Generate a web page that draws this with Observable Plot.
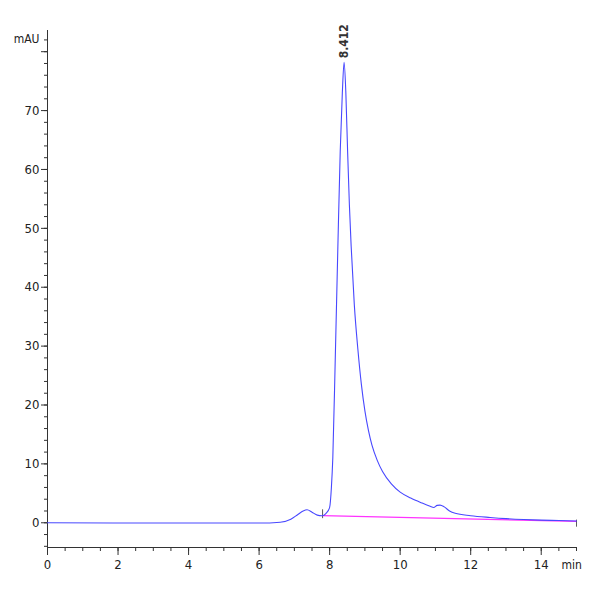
<!DOCTYPE html>
<html>
<head>
<meta charset="utf-8">
<script src="https://cdn.jsdelivr.net/npm/d3@7"></script>
<script src="https://cdn.jsdelivr.net/npm/@observablehq/plot@0.6"></script>
<style>
  html, body { margin: 0; padding: 0; background: #fff; }
  #chart svg { display: block; }
</style>
</head>
<body>
<div id="chart"></div>
<script>
// Chromatogram trace (time in min, signal in mAU)
const time = [0, 3, 6, 6.6, 6.9, 7.1, 7.25, 7.36, 7.5, 7.65, 7.78, 7.9, 8.0, 8.05, 8.09, 8.16, 8.23, 8.30, 8.36, 8.41, 8.46, 8.51, 8.56, 8.61, 8.70, 8.80, 8.90, 9.00, 9.10, 9.20, 9.35, 9.50, 9.75, 10.0, 10.3, 10.6, 10.85, 10.95, 11.05, 11.13, 11.25, 11.4, 11.56, 12.0, 12.55, 13.0, 13.5, 14.0, 14.5, 15.0];
const signal = [0, -0.05, -0.05, 0.1, 0.6, 1.4, 2.0, 2.2, 1.8, 1.3, 1.2, 1.6, 2.6, 6, 11, 28, 46, 63, 73, 78.2, 73, 63, 54, 47, 37, 29.5, 23.5, 19, 15.7, 13.2, 10.6, 8.7, 6.6, 5.2, 4.2, 3.4, 2.8, 2.6, 2.95, 3.0, 2.7, 2.0, 1.6, 1.2, 0.9, 0.7, 0.55, 0.45, 0.38, 0.3];

// Integration baseline
const baseTime = [7.8, 15.0];
const baseSignal = [1.2, 0.25];

// Peak annotation
const peakTime = [8.412];
const peakSignal = [78.2];
const peakLabel = ["8.412"];

// Axis ticks
const xMajor = [0, 2, 4, 6, 8, 10, 12, 14];
const xMinor = d3.range(0, 15.001, 0.5);
const yMajorLabeled = [0, 10, 20, 30, 40, 50, 60, 70];
const yMajorUnlabeled = [80];
const yMinor = d3.range(-4, 82.001, 2);

const trace = time.map((t, i) => ({t, v: signal[i]}));
const base = baseTime.map((t, i) => ({t, v: baseSignal[i]}));
const peaks = peakTime.map((t, i) => ({t, v: peakSignal[i], label: peakLabel[i]}));

const font = "'Liberation Sans Narrow', 'DejaVu Sans Condensed', 'Liberation Sans', sans-serif";
const yMin = -4.2, yMax = 83.6;

const chart = Plot.plot({
  width: 600,
  height: 600,
  marginLeft: 47,
  marginRight: 24,
  marginTop: 30,
  marginBottom: 53,
  style: {fontFamily: font, fontSize: "13px", color: "#222", background: "#fff"},
  x: {domain: [0, 15], axis: null},
  y: {domain: [yMin, yMax], axis: null},
  marks: [
    // axis lines
    Plot.ruleX([0], {stroke: "#333", strokeWidth: 1}),
    Plot.ruleY([yMin], {stroke: "#333", strokeWidth: 1}),
    // x axis
    Plot.axisX({ticks: xMinor, tickSize: 4, tickFormat: () => "", anchor: "bottom", label: null, stroke: "#333"}),
    Plot.axisX({ticks: xMajor, tickSize: 8, tickPadding: 4, anchor: "bottom", label: null, stroke: "#333", fontSize: 13}),
    // y axis
    Plot.axisY({ticks: yMinor, tickSize: 3, tickFormat: () => "", anchor: "left", label: null, stroke: "#333"}),
    Plot.axisY({ticks: yMajorUnlabeled, tickSize: 6, tickFormat: () => "", anchor: "left", label: null, stroke: "#333"}),
    Plot.axisY({ticks: yMajorLabeled, tickSize: 6, tickPadding: 2, anchor: "left", label: null, stroke: "#333", fontSize: 13}),
    // unit labels
    Plot.text(["mAU"], {x: 0, y: 82.2, text: d => d, textAnchor: "end", dx: -8, fontSize: 12, fill: "#222"}),
    Plot.text(["min"], {x: 14.86, y: yMin, text: d => d, dy: 18, fontSize: 12, fill: "#222"}),
    // integration baseline
    Plot.line(base, {x: "t", y: "v", stroke: "#ff33ff", strokeWidth: 1.2}),
    Plot.ruleX([base[0]], {x: "t", y1: d => d.v - 0.5, y2: d => d.v + 1.0, stroke: "#333", strokeWidth: 0.8}),
    Plot.ruleX([base[1]], {x: "t", y1: d => d.v - 1.0, y2: d => d.v + 0.2, stroke: "#333", strokeWidth: 0.8}),
    // chromatogram trace
    Plot.line(trace, {x: "t", y: "v", stroke: "#4848ff", strokeWidth: 1.1, curve: "monotone-x"}),
    // peak label
    Plot.text(peaks, {x: "t", y: "v", text: "label", rotate: -90, textAnchor: "start", dy: -4, fontSize: 12, fontWeight: "bold", fill: "#333"})
  ]
});

document.getElementById("chart").appendChild(chart);
</script>
</body>
</html>
